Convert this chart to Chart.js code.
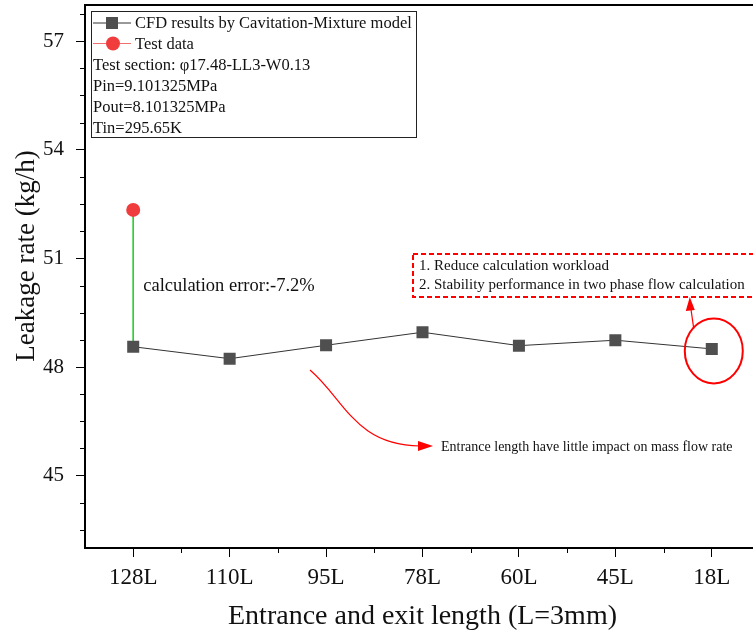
<!DOCTYPE html>
<html>
<head>
<meta charset="utf-8">
<script src="https://cdn.jsdelivr.net/npm/chart.js@4/dist/chart.umd.min.js"></script>
<style>
    html, body { margin: 0; padding: 0; background: #fff; overflow: hidden; }
    #wrap { width: 780px; height: 636px; }
</style>
</head>
<body>
<div id="wrap"><canvas id="leakChart" width="780" height="636"></canvas></div>
<script>

// =========================
// Data
// =========================

const lengthLabels = ["128L", "110L", "95L", "78L", "60L", "45L", "18L"];
const cfdLeakage = [48.56, 48.23, 48.60, 48.96, 48.59, 48.74, 48.50];
const testLeakage = 52.34;
const yTickValues = [45, 48, 51, 54, 57];

const infoLines = [
    "Test section: \u03c617.48-LL3-W0.13",
    "Pin=9.101325MPa",
    "Pout=8.101325MPa",
    "Tin=295.65K"
];
const noteLines = [
    "1. Reduce calculation workload",
    "2. Stability performance in two phase flow calculation"
];

const serif = "'Liberation Serif', 'Times New Roman', serif";
const squareColor = "#4f4f4f";
const testColor = "#f03c3c";

// =========================
// Extras: frame, minor ticks, legend, notes
// =========================

const extras = {
    id: "extras",
    afterDraw(chart) {
        const c = chart.ctx;
        const a = chart.chartArea;
        const x = chart.scales.x;
        const y = chart.scales.y;

        c.save();

        // top frame line
        c.strokeStyle = "#000";
        c.lineWidth = 2;
        c.beginPath();
        c.moveTo(a.left - 1, a.top);
        c.lineTo(a.right, a.top);
        c.stroke();

        // minor ticks
        c.lineWidth = 1;
        c.beginPath();
        for (let v = 43.5; v < 58; v += 0.75) {
            if (yTickValues.includes(v)) continue;
            const py = Math.round(y.getPixelForValue(v)) + 0.5;
            c.moveTo(a.left, py);
            c.lineTo(a.left - 5, py);
        }
        for (let i = 0; i < lengthLabels.length - 1; i++) {
            const px = Math.round(x.getPixelForValue(i + 0.5)) + 0.5;
            c.moveTo(px, a.bottom);
            c.lineTo(px, a.bottom + 5);
        }
        c.stroke();

        // y axis title
        c.save();
        c.translate(27, 256);
        c.rotate(-Math.PI / 2);
        c.font = "27px " + serif;
        c.fillStyle = "#111";
        c.textAlign = "center";
        c.textBaseline = "middle";
        c.fillText("Leakage rate (kg/h)", 0, 0);
        c.restore();

        // legend box
        const lx = a.left + 6, ly = a.top + 6, lw = 325, lh = 126;
        c.lineWidth = 1;
        c.strokeStyle = "#222";
        c.strokeRect(lx + 0.5, ly + 0.5, lw, lh);

        c.font = "16.5px " + serif;
        c.fillStyle = "#111";
        c.textBaseline = "middle";
        c.textAlign = "left";

        let rowY = ly + 12;
        // CFD entry
        c.strokeStyle = "#333";
        c.beginPath();
        c.moveTo(lx + 2, rowY);
        c.lineTo(lx + 40, rowY);
        c.stroke();
        c.fillStyle = squareColor;
        c.fillRect(lx + 15, rowY - 6, 12, 12);
        c.fillStyle = "#111";
        c.fillText("CFD results by Cavitation-Mixture model", lx + 44, rowY + 1);

        rowY += 20.5;
        // test entry
        c.strokeStyle = "#f07070";
        c.beginPath();
        c.moveTo(lx + 2, rowY);
        c.lineTo(lx + 40, rowY);
        c.stroke();
        c.fillStyle = testColor;
        c.beginPath();
        c.arc(lx + 22, rowY, 7, 0, Math.PI * 2);
        c.fill();
        c.fillStyle = "#111";
        c.fillText("Test data", lx + 44, rowY + 1);

        infoLines.forEach(line => {
            rowY += 21;
            c.fillText(line, lx + 2, rowY + 1);
        });

        // error label
        c.font = "18.5px " + serif;
        c.fillText("calculation error:-7.2%", x.getPixelForValue(0) + 10, 286);

        // dashed note box
        c.strokeStyle = "#ff0000";
        c.lineWidth = 2;
        c.setLineDash([5, 3]);
        c.strokeRect(413, 254, 360, 43);
        c.setLineDash([]);

        c.font = "15px " + serif;
        c.fillStyle = "#111";
        c.fillText(noteLines[0], 419, 266);
        c.fillText(noteLines[1], 419, 285);

        // circle round the last point
        const ex = x.getPixelForValue(6) + 2;
        const ey = y.getPixelForValue(cfdLeakage[6]) + 2;
        c.beginPath();
        c.ellipse(ex, ey, 29, 32.5, 0, 0, Math.PI * 2);
        c.stroke();

        // arrow from circle up to the note box
        c.lineWidth = 1.2;
        c.fillStyle = "#ff0000";
        c.beginPath();
        c.moveTo(ex - 20, ey - 22);
        c.lineTo(ex - 23, 308);
        c.stroke();
        c.beginPath();
        c.moveTo(ex - 24, 297);
        c.lineTo(ex - 28, 311);
        c.lineTo(ex - 19, 310);
        c.closePath();
        c.fill();

        // curved arrow to the bottom note
        c.beginPath();
        c.moveTo(310, 370);
        c.bezierCurveTo(345, 400, 355, 445, 420, 446);
        c.stroke();
        c.beginPath();
        c.moveTo(433, 446);
        c.lineTo(418, 441);
        c.lineTo(418, 451);
        c.closePath();
        c.fill();

        c.font = "14px " + serif;
        c.fillStyle = "#111";
        c.fillText("Entrance length have little impact on mass flow rate", 441, 447);

        c.restore();
    }
};

// =========================
// Chart
// =========================

const ctx = document.getElementById("leakChart");

const chart = new Chart(ctx, {
    type: "line",
    data: {
        labels: lengthLabels,
        datasets: [
            {
                label: "CFD results by Cavitation-Mixture model",
                data: cfdLeakage,
                borderColor: "#333",
                borderWidth: 1,
                pointStyle: "rect",
                pointRadius: 8.5,
                pointHoverRadius: 8.5,
                pointBackgroundColor: squareColor,
                pointBorderWidth: 0,
                tension: 0
            },
            {
                label: "Test data",
                data: [{ x: lengthLabels[0], y: testLeakage }],
                borderColor: testColor,
                pointRadius: 7,
                pointBackgroundColor: testColor,
                pointBorderWidth: 0,
                showLine: false
            },
            {
                label: "error",
                data: [
                    { x: lengthLabels[0], y: testLeakage },
                    { x: lengthLabels[0], y: cfdLeakage[0] }
                ],
                borderColor: "#2ecc2e",
                borderWidth: 1,
                pointRadius: 0
            }
        ]
    },
    options: {
        responsive: false,
        animation: false,
        devicePixelRatio: 1,
        layout: {
            autoPadding: false,
            padding: { left: 0, top: 5, right: 20, bottom: 0 }
        },
        plugins: {
            legend: { display: false },
            tooltip: { enabled: false }
        },
        scales: {
            x: {
                type: "category",
                offset: true,
                grid: {
                    offset: false,
                    drawOnChartArea: false,
                    drawTicks: true,
                    tickLength: 9,
                    color: "#000"
                },
                border: { display: true, color: "#000", width: 2 },
                ticks: {
                    color: "#111",
                    padding: 7,
                    font: { family: serif, size: 23 }
                },
                title: {
                    display: true,
                    text: "Entrance and exit length (L=3mm)",
                    color: "#111",
                    font: { family: serif, size: 28 },
                    padding: { top: 0, bottom: 3 }
                },
                afterFit(scale) {
                    scale.height = 88;
                    scale.paddingLeft = 0;
                    scale.paddingRight = 0;
                }
            },
            y: {
                min: 43,
                max: 58,
                grid: {
                    drawOnChartArea: false,
                    drawTicks: true,
                    tickLength: 9,
                    color: "#000"
                },
                border: { display: true, color: "#000", width: 2 },
                ticks: {
                    color: "#111",
                    padding: 12,
                    font: { family: serif, size: 21 }
                },
                afterBuildTicks(scale) {
                    scale.ticks = yTickValues.map(v => ({ value: v }));
                },
                afterFit(scale) {
                    scale.width = 85;
                    scale.paddingTop = 0;
                    scale.paddingBottom = 0;
                }
            }
        }
    },
    plugins: [extras]
});
</script>
</body>
</html>
